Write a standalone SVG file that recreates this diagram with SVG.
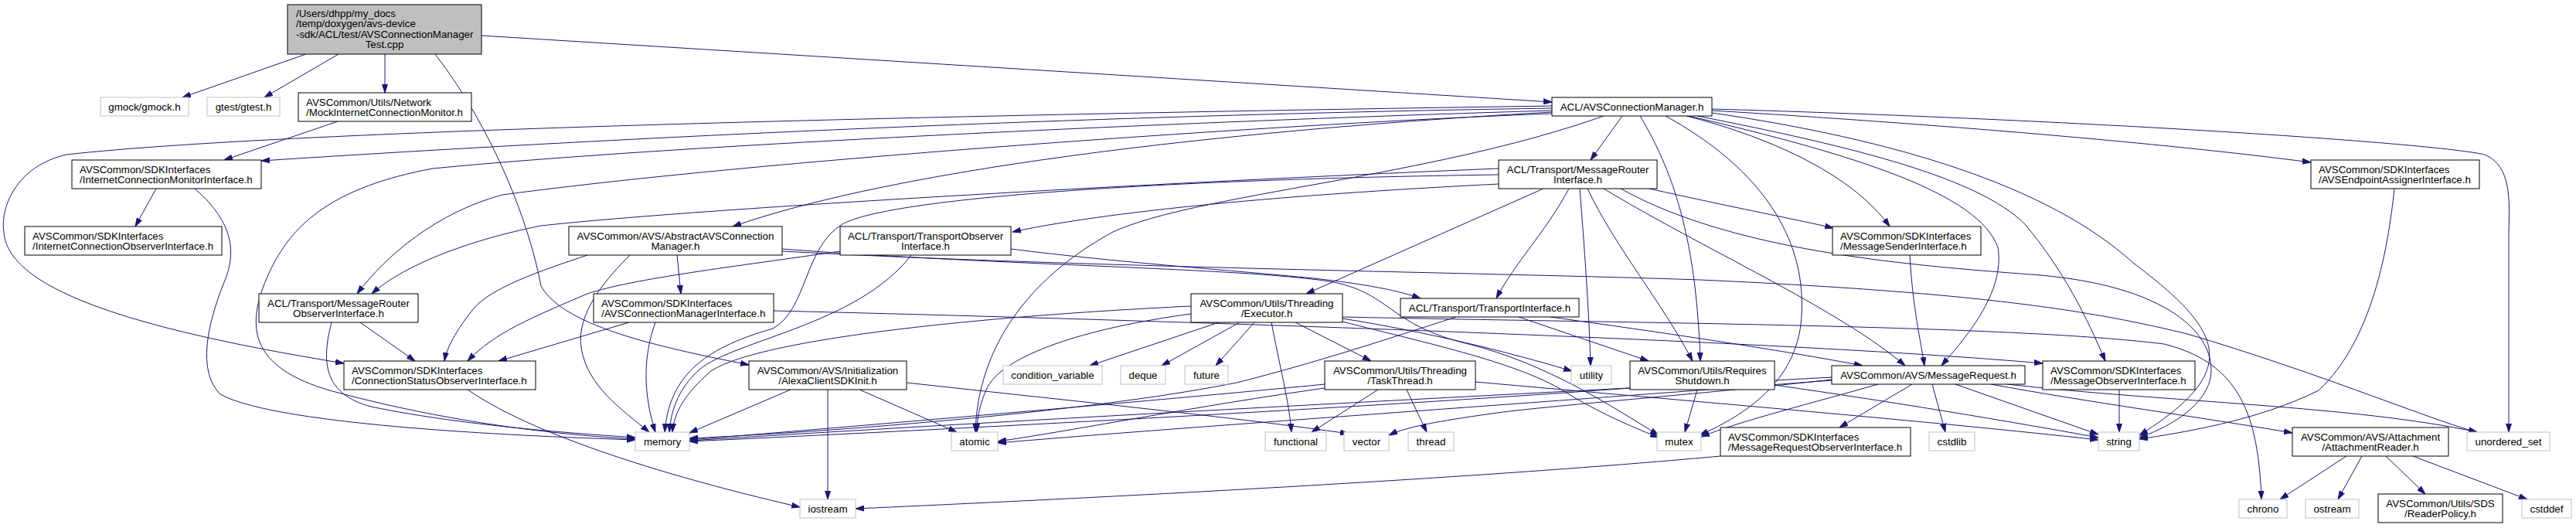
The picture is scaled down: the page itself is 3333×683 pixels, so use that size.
<svg xmlns="http://www.w3.org/2000/svg" width="3333" height="683" viewBox="0 0 3333 683">
<style>
.node rect{fill:#ffffff;stroke:#000000;stroke-width:1}
.ext rect{stroke:#bfbfbf}
.root rect{fill:#bfbfbf}
text{font-family:"Liberation Sans",Arial,Helvetica,sans-serif;font-size:13.33px;fill:#000000}
.c{text-anchor:middle}
.e path{fill:none;stroke:#191970;stroke-width:1;marker-end:url(#a)}
</style>
<defs>
<marker id="a" markerWidth="11" markerHeight="8" refX="11" refY="4" orient="auto" markerUnits="userSpaceOnUse"><path d="M0,0.5 L11,4 L0,7.5 z" fill="#191970" stroke="#191970" stroke-width="1"/></marker>
</defs>
<rect x="0" y="0" width="3333" height="683" fill="#ffffff"/>
<g id="edges" class="e">
<path d="M396,70 L236,126"/>
<path d="M438,70 L342,126"/>
<path d="M498,70 L498,120"/>
<path d="M623,46 L2008,132"/>
<path d="M563,70 C640,170 685,290 700,370 C730,425 870,452 969,472"/>
<path d="M437,157 L290,207"/>
<path d="M202,244 L175,293"/>
<path d="M252,244 C305,290 305,330 290,365 C268,420 255,480 285,510 C360,552 700,565 822,569"/>
<path d="M2008,140 C1600,146 1000,165 338,208"/>
<path d="M2008,137 C1400,146 400,165 86,200 C20,215 0,270 5,300 C10,380 200,430 445,470"/>
<path d="M2008,143 C1600,155 900,185 560,218 C430,242 380,290 352,345 C315,420 320,475 430,506 C600,552 750,564 822,568"/>
<path d="M2008,145 C1700,162 1200,205 948,293"/>
<path d="M2008,147 C1700,158 1000,205 650,252 C565,275 500,330 462,380"/>
<path d="M1939,218 C1500,236 900,270 700,292 C600,312 520,345 481,380"/>
<path d="M1939,226 C1500,232 1150,256 1090,290 C1040,320 1045,400 1000,425 C905,452 866,490 860,559"/>
<path d="M1179,330 C1110,420 950,440 905,478 C875,505 868,535 866,559"/>
<path d="M1087,325 C950,345 820,360 760,380 C690,410 640,430 605,467"/>
<path d="M760,330 C700,350 635,372 612,400 C590,428 578,450 575,467"/>
<path d="M815,330 C785,360 745,405 752,450 C760,500 805,530 840,559"/>
<path d="M876,330 L881,380"/>
<path d="M1012,322 C1300,344 1600,346 1720,364 C1800,378 1795,420 1900,445 C2000,470 2085,525 2146,563"/>
<path d="M1308,322 C1450,340 1600,350 1700,360 C1770,368 1810,376 1838,386"/>
<path d="M1012,325 C1400,346 1900,352 2200,362 C2550,378 2700,400 2830,432 C3000,482 3150,545 3205,559"/>
<path d="M814,417 L645,467"/>
<path d="M848,417 C832,460 832,510 848,559"/>
<path d="M1001,402 C1500,414 2300,440 2643,470"/>
<path d="M605,504 C700,570 900,625 1035,656"/>
<path d="M466,417 L537,467"/>
<path d="M429,417 C415,470 420,510 480,526 C600,551 750,561 822,566"/>
<path d="M1023,504 L892,560"/>
<path d="M1071,504 L1071,646"/>
<path d="M1112,504 L1238,559"/>
<path d="M1173,495 C1400,520 1600,540 1745,561"/>
<path d="M1577,417 L1410,473"/>
<path d="M1604,417 L1503,473"/>
<path d="M1623,417 L1573,473"/>
<path d="M1645,417 C1655,470 1668,520 1671,559"/>
<path d="M1676,417 L1774,467"/>
<path d="M1737,412 C1850,430 1950,455 2034,480"/>
<path d="M1737,416 C1850,445 1970,470 2030,510 C2080,540 2120,555 2146,566"/>
<path d="M1737,410 C2100,418 2600,420 2800,445 C2900,470 2922,540 2926,646"/>
<path d="M1541,396 C1250,410 980,440 920,480 C885,510 872,535 870,559"/>
<path d="M1541,406 C1400,425 1300,460 1278,500 C1266,525 1264,545 1264,559"/>
<path d="M1783,504 L1697,559"/>
<path d="M1820,504 L1846,559"/>
<path d="M1714,502 C1550,525 1400,555 1291,571"/>
<path d="M1714,497 C1500,518 1100,552 892,569"/>
<path d="M1909,494 C2200,520 2500,545 2715,569"/>
<path d="M1884,410 C1800,437 1700,470 1600,495 C1400,535 1050,560 892,567"/>
<path d="M1965,410 L2133,467"/>
<path d="M2006,410 C2150,430 2300,452 2410,473"/>
<path d="M2196,504 L2180,559"/>
<path d="M2296,498 C2450,520 2600,545 2715,566"/>
<path d="M2109,502 C1800,525 1300,552 892,571"/>
<path d="M2370,488 C2000,508 1400,538 892,570"/>
<path d="M2370,492 C2000,520 1500,555 1291,573"/>
<path d="M2370,491 C2200,510 2000,525 1930,535 C1860,545 1820,552 1797,563"/>
<path d="M2474,497 L2380,553"/>
<path d="M2430,497 C2350,520 2250,545 2201,565"/>
<path d="M2500,497 L2517,559"/>
<path d="M2530,497 L2715,562"/>
<path d="M2576,497 C2700,520 2850,540 2966,560"/>
<path d="M2597,497 C2800,520 3050,525 3205,559"/>
<path d="M2742,504 L2742,559"/>
<path d="M2471,330 C2475,400 2485,440 2490,473"/>
<path d="M1997,244 L1690,380"/>
<path d="M2030,244 C2000,300 1960,340 1936,386"/>
<path d="M2044,244 C2050,320 2056,400 2058,473"/>
<path d="M2054,244 C2090,320 2150,390 2190,467"/>
<path d="M2075,244 C2200,320 2380,400 2465,473"/>
<path d="M2097,244 C2250,330 2500,345 2640,356 C2800,370 2870,430 2860,490 C2850,530 2800,555 2768,566"/>
<path d="M2134,244 C2250,270 2330,285 2372,295"/>
<path d="M1939,238 C1700,250 1450,270 1310,300"/>
<path d="M2099,150 L2058,207"/>
<path d="M2122,150 C2170,230 2195,320 2200,467"/>
<path d="M2155,150 C2300,230 2340,330 2330,420 C2320,500 2250,540 2199,563"/>
<path d="M2182,150 C2300,180 2400,230 2445,293"/>
<path d="M2185,150 C2400,200 2560,250 2585,320 C2595,380 2540,440 2512,473"/>
<path d="M2196,150 C2400,190 2560,230 2620,290 C2670,350 2700,410 2724,467"/>
<path d="M2215,146 C2450,180 2650,240 2760,340 C2880,430 2900,480 2768,563"/>
<path d="M2215,143 C2500,160 2800,185 2990,210"/>
<path d="M2215,141 C2700,155 3150,185 3215,200 C3250,215 3247,260 3246,300 L3246,559"/>
<path d="M2075,150 C1850,230 1550,250 1440,300 C1330,360 1265,450 1262,559"/>
<path d="M3098,244 C3090,320 3070,440 3000,505 C2920,545 2820,560 2768,568"/>
<path d="M3036,590 L2950,646"/>
<path d="M3056,590 L3025,646"/>
<path d="M3087,590 L3138,639"/>
<path d="M3122,590 L3270,646"/>
<path d="M2226,590 C1900,620 1400,645 1107,658"/>
</g>
<g id="node_root" class="node root"><rect x="372" y="6" width="251" height="64"/><text x="383" y="22">/Users/dhpp/my_docs</text><text x="383" y="35.3">/temp/doxygen/avs-device</text><text x="383" y="48.7">-sdk/ACL/test/AVSConnectionManager</text><text class="c" x="497.5" y="62">Test.cpp</text></g>
<g id="node_gmock" class="node ext"><rect x="130" y="126" width="114" height="24"/><text class="c" x="187" y="143">gmock/gmock.h</text></g>
<g id="node_gtest" class="node ext"><rect x="268" y="126" width="94" height="24"/><text class="c" x="315" y="143">gtest/gtest.h</text></g>
<g id="node_mock" class="node"><rect x="386" y="120" width="224" height="37"/><text x="396" y="137">AVSCommon/Utils/Network</text><text x="396" y="150.3">/MockInternetConnectionMonitor.h</text></g>
<g id="node_avscm" class="node"><rect x="2008" y="126" width="207" height="24"/><text class="c" x="2111.5" y="143">ACL/AVSConnectionManager.h</text></g>
<g id="node_icmi" class="node"><rect x="93" y="207" width="245" height="37"/><text x="103" y="224">AVSCommon/SDKInterfaces</text><text x="103" y="237.3">/InternetConnectionMonitorInterface.h</text></g>
<g id="node_mri" class="node"><rect x="1939" y="207" width="205" height="37"/><text class="c" x="2041.5" y="224">ACL/Transport/MessageRouter</text><text class="c" x="2041.5" y="237.3">Interface.h</text></g>
<g id="node_endpoint" class="node"><rect x="2990" y="207" width="218" height="37"/><text x="3000" y="224">AVSCommon/SDKInterfaces</text><text x="3000" y="237.3">/AVSEndpointAssignerInterface.h</text></g>
<g id="node_icoi" class="node"><rect x="32" y="293" width="255" height="37"/><text x="42" y="310">AVSCommon/SDKInterfaces</text><text x="42" y="323.3">/InternetConnectionObserverInterface.h</text></g>
<g id="node_abstract" class="node"><rect x="736" y="293" width="276" height="37"/><text class="c" x="874" y="310">AVSCommon/AVS/AbstractAVSConnection</text><text class="c" x="874" y="323.3">Manager.h</text></g>
<g id="node_tobs" class="node"><rect x="1087" y="293" width="221" height="37"/><text class="c" x="1197.5" y="310">ACL/Transport/TransportObserver</text><text class="c" x="1197.5" y="323.3">Interface.h</text></g>
<g id="node_sender" class="node"><rect x="2371" y="293" width="192" height="37"/><text x="2381" y="310">AVSCommon/SDKInterfaces</text><text x="2381" y="323.3">/MessageSenderInterface.h</text></g>
<g id="node_mrobs" class="node"><rect x="335" y="380" width="206" height="37"/><text class="c" x="438" y="397">ACL/Transport/MessageRouter</text><text class="c" x="438" y="410.3">ObserverInterface.h</text></g>
<g id="node_acmi" class="node"><rect x="768" y="380" width="233" height="37"/><text x="778" y="397">AVSCommon/SDKInterfaces</text><text x="778" y="410.3">/AVSConnectionManagerInterface.h</text></g>
<g id="node_exec" class="node"><rect x="1541" y="380" width="196" height="37"/><text class="c" x="1639" y="397">AVSCommon/Utils/Threading</text><text class="c" x="1639" y="410.3">/Executor.h</text></g>
<g id="node_tif" class="node"><rect x="1812" y="386" width="231" height="24"/><text class="c" x="1927.5" y="403">ACL/Transport/TransportInterface.h</text></g>
<g id="node_cso" class="node"><rect x="445" y="467" width="248" height="37"/><text x="455" y="484">AVSCommon/SDKInterfaces</text><text x="455" y="497.3">/ConnectionStatusObserverInterface.h</text></g>
<g id="node_init" class="node"><rect x="969" y="467" width="204" height="37"/><text class="c" x="1071" y="484">AVSCommon/AVS/Initialization</text><text class="c" x="1071" y="497.3">/AlexaClientSDKInit.h</text></g>
<g id="node_condvar" class="node ext"><rect x="1298" y="473" width="128" height="24"/><text class="c" x="1362" y="490">condition_variable</text></g>
<g id="node_deque" class="node ext"><rect x="1450" y="473" width="58" height="24"/><text class="c" x="1479" y="490">deque</text></g>
<g id="node_future" class="node ext"><rect x="1533" y="473" width="56" height="24"/><text class="c" x="1561" y="490">future</text></g>
<g id="node_task" class="node"><rect x="1714" y="467" width="195" height="37"/><text class="c" x="1811.5" y="484">AVSCommon/Utils/Threading</text><text class="c" x="1811.5" y="497.3">/TaskThread.h</text></g>
<g id="node_utility" class="node ext"><rect x="2033" y="473" width="52" height="24"/><text class="c" x="2059" y="490">utility</text></g>
<g id="node_reqshut" class="node"><rect x="2109" y="467" width="187" height="37"/><text class="c" x="2202.5" y="484">AVSCommon/Utils/Requires</text><text class="c" x="2202.5" y="497.3">Shutdown.h</text></g>
<g id="node_msgreq" class="node"><rect x="2370" y="473" width="250" height="24"/><text class="c" x="2495" y="490">AVSCommon/AVS/MessageRequest.h</text></g>
<g id="node_msgobs" class="node"><rect x="2643" y="467" width="197" height="37"/><text x="2653" y="484">AVSCommon/SDKInterfaces</text><text x="2653" y="497.3">/MessageObserverInterface.h</text></g>
<g id="node_memory" class="node ext"><rect x="822" y="559" width="70" height="24"/><text class="c" x="857" y="576">memory</text></g>
<g id="node_atomic" class="node ext"><rect x="1231" y="559" width="60" height="24"/><text class="c" x="1261" y="576">atomic</text></g>
<g id="node_functional" class="node ext"><rect x="1637" y="559" width="79" height="24"/><text class="c" x="1676.5" y="576">functional</text></g>
<g id="node_vector" class="node ext"><rect x="1739" y="559" width="58" height="24"/><text class="c" x="1768" y="576">vector</text></g>
<g id="node_thread" class="node ext"><rect x="1822" y="559" width="59" height="24"/><text class="c" x="1851.5" y="576">thread</text></g>
<g id="node_mutex" class="node ext"><rect x="2144" y="559" width="57" height="24"/><text class="c" x="2172.5" y="576">mutex</text></g>
<g id="node_mrobsi" class="node"><rect x="2226" y="553" width="246" height="37"/><text x="2236" y="570">AVSCommon/SDKInterfaces</text><text x="2236" y="583.3">/MessageRequestObserverInterface.h</text></g>
<g id="node_cstdlib" class="node ext"><rect x="2496" y="559" width="59" height="24"/><text class="c" x="2525.5" y="576">cstdlib</text></g>
<g id="node_string" class="node ext"><rect x="2715" y="559" width="53" height="24"/><text class="c" x="2741.5" y="576">string</text></g>
<g id="node_attach" class="node"><rect x="2966" y="553" width="202" height="37"/><text class="c" x="3067" y="570">AVSCommon/AVS/Attachment</text><text class="c" x="3067" y="583.3">/AttachmentReader.h</text></g>
<g id="node_unset" class="node ext"><rect x="3192" y="559" width="107" height="24"/><text class="c" x="3245.5" y="576">unordered_set</text></g>
<g id="node_iostream" class="node ext"><rect x="1035" y="646" width="72" height="24"/><text class="c" x="1071" y="663">iostream</text></g>
<g id="node_chrono" class="node ext"><rect x="2897" y="646" width="62" height="24"/><text class="c" x="2928" y="663">chrono</text></g>
<g id="node_ostream" class="node ext"><rect x="2983" y="646" width="69" height="24"/><text class="c" x="3017.5" y="663">ostream</text></g>
<g id="node_readerpolicy" class="node"><rect x="3077" y="639" width="161" height="37"/><text class="c" x="3157.5" y="656">AVSCommon/Utils/SDS</text><text class="c" x="3157.5" y="669.3">/ReaderPolicy.h</text></g>
<g id="node_cstddef" class="node ext"><rect x="3263" y="646" width="64" height="24"/><text class="c" x="3295" y="663">cstddef</text></g>
</svg>
